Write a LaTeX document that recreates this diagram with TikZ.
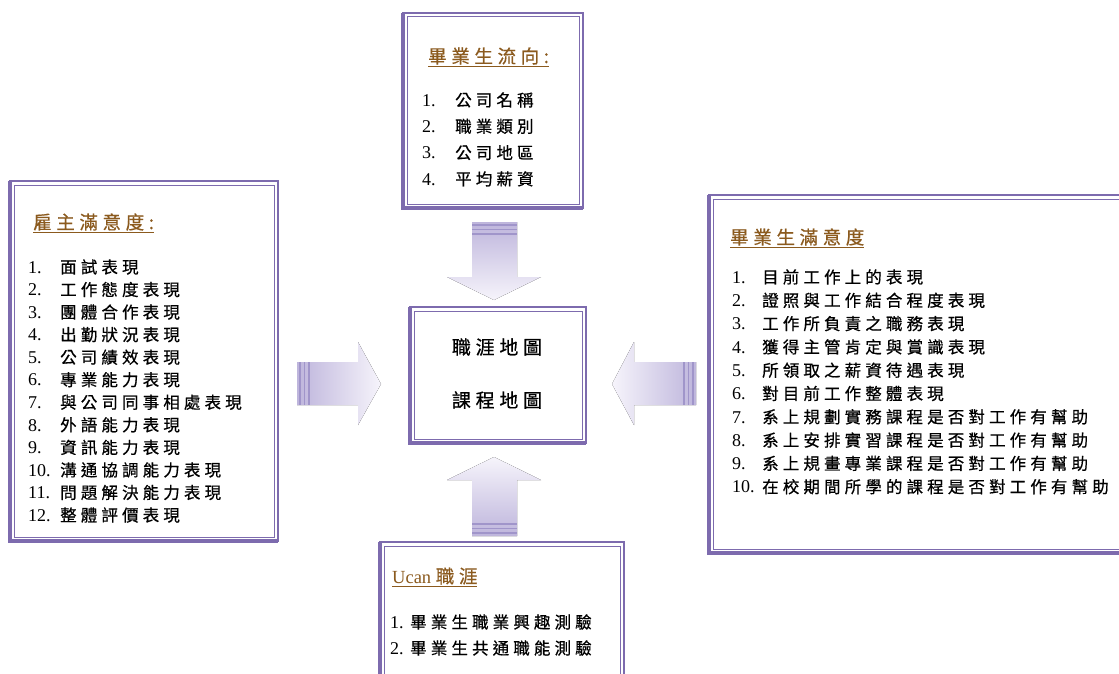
\documentclass[tikz,border=0pt]{standalone}
\usepackage{fontspec}
\setmainfont{Liberation Serif}
\newfontfamily\cjk[LetterSpace=25,FakeBold=0.6]{Noto Sans CJK TC}
\definecolor{boxc}{RGB}{125,107,174}
\definecolor{headc}{RGB}{139,90,30}
\definecolor{arrA}{RGB}{190,181,220}
\definecolor{arrB}{RGB}{246,244,251}
\definecolor{stripec}{RGB}{160,149,202}
\tikzset{
  frame/.style={draw=boxc, line width=2pt, inner sep=0pt, fill=white},
  item/.style={anchor=west, inner sep=0pt, font=\fontsize{16.5}{19}\selectfont},
  head/.style={anchor=west, inner sep=0pt, text=headc, font=\fontsize{18.5}{21}\selectfont},
  centertext/.style={inner sep=0pt, font=\fontsize{19}{22}\selectfont},
  stripe/.style={draw=stripec, line width=1.2pt},
}
\newcommand\num[2]{\makebox[#1][l]{\fontsize{18}{19}\selectfont #2}}
\newcommand\dbox[1]{%
  \draw[boxc,line width=1pt] ([xshift=5pt,yshift=-5pt]#1.north west) rectangle ([xshift=-5pt,yshift=5pt]#1.south east);
  \draw[boxc,line width=3.5pt] ([xshift=1pt,yshift=-1pt]#1.north west) -- ([xshift=1pt,yshift=1pt]#1.south west) -- ([xshift=-1pt,yshift=1pt]#1.south east);
}
\begin{document}
\begin{tikzpicture}[x=1pt,y=-1pt]
\useasboundingbox (0,0) rectangle (1119,674);
\clip (0,0) rectangle (1119,674);

% ---------- boxes ----------
\node[frame, minimum width=268pt, minimum height=360pt] (emp) at (144,361) {};
\dbox{emp}
\node[frame, minimum width=180pt, minimum height=195pt] (flow) at (493,110.5) {};
\dbox{flow}
\node[frame, minimum width=176pt, minimum height=136pt] (map) at (498,375) {};
\dbox{map}
\node[frame, minimum width=416pt, minimum height=358pt] (sat) at (917,374) {};
\dbox{sat}
\node[frame, minimum width=244pt, minimum height=140pt] (ucan) at (502,612) {};
\dbox{ucan}

% ---------- block arrows ----------
% top (pointing down)
\fill[top color=arrA, bottom color=arrB] (472,222) -- (517,222) -- (517,277) -- (541,277) -- (494,300) -- (447,277) -- (472,277) -- cycle;
\foreach \yy in {225,229.5,234} \draw[stripe] (472,\yy) -- (517,\yy);
% bottom (pointing up)
\fill[bottom color=arrA, top color=arrB] (472,536) -- (517,536) -- (517,480) -- (541,480) -- (494,457) -- (447,480) -- (472,480) -- cycle;
\foreach \yy in {533,528.5,524} \draw[stripe] (472,\yy) -- (517,\yy);
% left (pointing right)
\fill[left color=arrA, right color=arrB] (297,362) -- (358,362) -- (358,342) -- (381,384) -- (358,425) -- (358,405) -- (297,405) -- cycle;
\foreach \xx in {300,304.5,309} \draw[stripe] (\xx,362) -- (\xx,405);
% right (pointing left)
\fill[right color=arrA, left color=arrB] (696,362) -- (634,362) -- (634,342) -- (612,384) -- (634,425) -- (634,405) -- (696,405) -- cycle;
\foreach \xx in {693,688.5,684} \draw[stripe] (\xx,362) -- (\xx,405);

% ---------- left box text ----------
\node[head] (emph) at (33,223) {\underline{\cjk 雇主滿意度:}};
\foreach \n/\t [count=\i] in {1./面試表現, 2./工作態度表現, 3./團體合作表現, 4./出勤狀況表現, 5./公司績效表現, 6./專業能力表現, 7./與公司同事相處表現, 8./外語能力表現, 9./資訊能力表現, 10./溝通協調能力表現, 11./問題解決能力表現, 12./整體評價表現}
  \node[item] (emp\i) at (28,{267+(\i-1)*22.55}) {\num{32pt}{\n}{\cjk\t}};

% ---------- top box text ----------
\node[head] (flowh) at (428,57) {\underline{\cjk 畢業生流向:}};
\foreach \n/\t [count=\i] in {1./公司名稱, 2./職業類別, 3./公司地區, 4./平均薪資}
  \node[item] (flow\i) at (422,{100+(\i-1)*26.3}) {\num{33pt}{\n}{\cjk\t}};

% ---------- center box text ----------
\node[centertext] (map1) at (497,347) {\cjk 職涯地圖};
\node[centertext] (map2) at (497,400) {\cjk 課程地圖};

% ---------- right box text ----------
\node[head] (sath) at (730,238) {\underline{\cjk 畢業生滿意度}};
\foreach \n/\t [count=\i] in {1./目前工作上的表現, 2./證照與工作結合程度表現, 3./工作所負責之職務表現, 4./獲得主管肯定與賞識表現, 5./所領取之薪資待遇表現, 6./對目前工作整體表現, 7./系上規劃實務課程是否對工作有幫助, 8./系上安排實習課程是否對工作有幫助, 9./系上規畫專業課程是否對工作有幫助, 10./在校期間所學的課程是否對工作有幫助}
  \node[item] (sat\i) at (732,{277+(\i-1)*23.3}) {\num{30pt}{\n}{\cjk\t}};

% ---------- bottom box text ----------
\node[head] (ucanh) at (392,577) {\underline{Ucan {\cjk 職涯}}};
\node[item] (ucan1) at (390,622) {\num{20pt}{1.}{\cjk 畢業生職業興趣測驗}};
\node[item] (ucan2) at (390,648) {\num{20pt}{2.}{\cjk 畢業生共通職能測驗}};
\end{tikzpicture}
\end{document}
